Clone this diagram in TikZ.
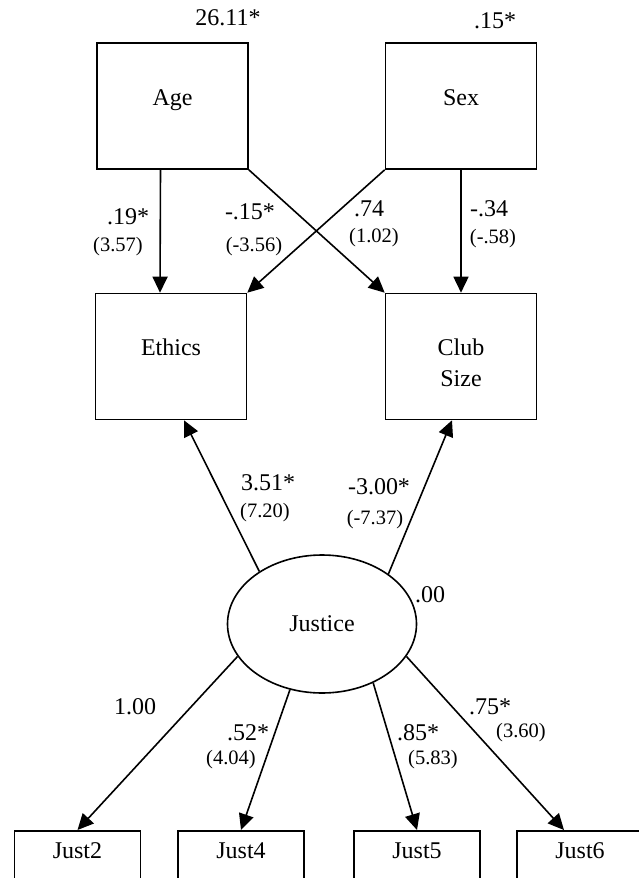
\documentclass[tikz,border=0pt]{standalone}
\usepackage{fontspec}
\setmainfont{Liberation Serif}
\usetikzlibrary{arrows.meta, shapes.geometric}
\def\boxwd{151pt}

\begin{document}
\begin{tikzpicture}[x=1pt, y=-1pt, line width=1.6pt, >={Triangle[length=16pt,width=15pt]}, font=\fontsize{24}{31}\selectfont]
    \tikzstyle{var}=[rectangle, draw=black, minimum width=\boxwd, minimum height=126pt, inner sep=0pt, align=center, text height=62pt, text depth=64pt]
    \tikzstyle{latent}=[ellipse, draw=black, minimum width=189pt, minimum height=138pt, inner sep=0pt]
    \tikzstyle{item}=[rectangle, draw=black, anchor=north, minimum width=126pt, inner sep=0pt, text height=28pt, text depth=45pt]
    \tikzstyle{coef}=[inner sep=1pt]
    \tikzstyle{tval}=[inner sep=1pt, font=\fontsize{20.5}{24}\selectfont]

    \useasboundingbox (0,0) rectangle (639,878);

    % observed and latent variables
    \node[var] (Age) at (172.5,106) {Age};
    \node[var] (Sex) at (461,106) {Sex};
    \node[var] (Ethics) at (171,356.5) {Ethics};
    \node[var, text height=93pt, text depth=33pt] (Club) at (461,356.5) {Club\\Size};
    \node[latent] (Justice) at (322,624) {Justice};

    \node[item] (Just2) at (77.5,830) {Just2};
    \node[item] (Just4) at (241,830) {Just4};
    \node[item] (Just5) at (417,830) {Just5};
    \node[item] (Just6) at (580,830) {Just6};

    % variances
    \node[coef] (v-age) at (228,18) {26.11*};
    \node[coef] (v-sex) at (495,21) {.15*};
    \node[coef] (v-just) at (430,595) {.00};

    % paths
    \draw[->] ([xshift=-12pt]Age.south) -- ([xshift=-11pt]Ethics.north);
    \draw[->] (Age.south east) -- (Club.north west);
    \draw[->] (Sex.south west) -- (Ethics.north east);
    \draw[->] (Sex.south) -- (Club.north);

    \draw[->] (Justice.140) -- ([xshift=13pt]Ethics.south);
    \draw[->] (Justice.37) -- ([xshift=-9pt]Club.south);

    \draw[->] (Justice.201) -- (Just2.north);
    \draw[->] (Justice.244) -- (Just4.north);
    \draw[->] (Justice.311) -- (Just5.north);
    \draw[->] (Justice.339) -- ([xshift=-16pt]Just6.north);

    % estimates and t values
    \node[coef] (c-age-eth) at (128,217) {.19*};
    \node[tval] (t-age-eth) at (118,247) {(3.57)};
    \node[coef] (c-age-club) at (250,212) {-.15*};
    \node[tval] (t-age-club) at (254,247) {(-3.56)};
    \node[coef] (c-sex-eth) at (369,209) {.74};
    \node[tval] (t-sex-eth) at (374,238) {(1.02)};
    \node[coef] (c-sex-club) at (489,209) {-.34};
    \node[tval] (t-sex-club) at (493,239) {(-.58)};

    \node[coef] (c-jus-eth) at (268,483) {3.51*};
    \node[tval] (t-jus-eth) at (265,513) {(7.20)};
    \node[coef] (c-jus-club) at (379,487) {-3.00*};
    \node[tval] (t-jus-club) at (375,520) {(-7.37)};

    \node[coef] (c-just2) at (135,707) {1.00};
    \node[coef] (c-just4) at (248,733) {.52*};
    \node[tval] (t-just4) at (231,760) {(4.04)};
    \node[coef] (c-just5) at (418,733) {.85*};
    \node[tval] (t-just5) at (433,760) {(5.83)};
    \node[coef] (c-just6) at (490,707) {.75*};
    \node[tval] (t-just6) at (521,733) {(3.60)};
\end{tikzpicture}
\end{document}
